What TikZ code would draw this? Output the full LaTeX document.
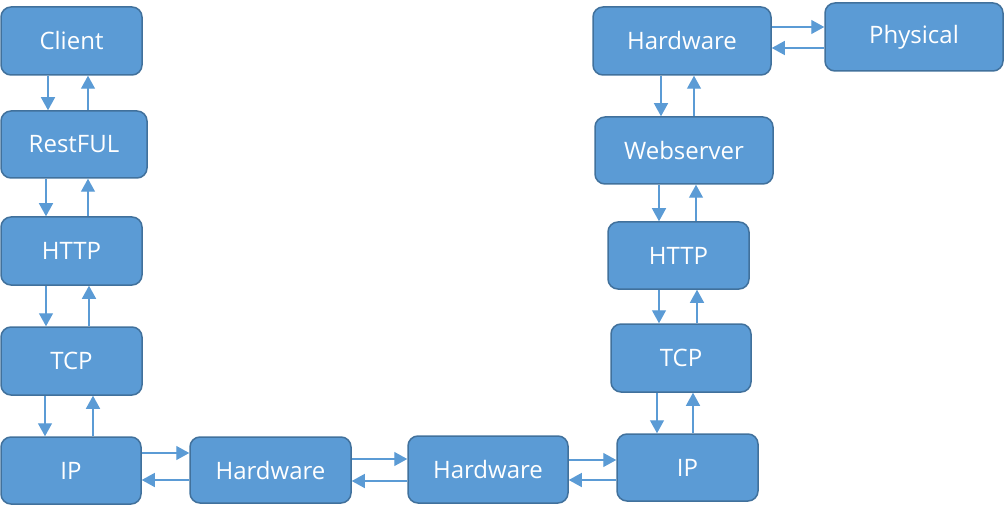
\documentclass[tikz,border=0pt]{standalone}
\usepackage{fontspec}
\setmainfont{Open Sans}
\usetikzlibrary{arrows.meta}
\definecolor{boxfill}{HTML}{5B9BD5}
\definecolor{boxline}{HTML}{41719C}
\definecolor{linkcol}{HTML}{5B9BD5}
\tikzset{
  layer/.style={draw=boxline, fill=boxfill, line width=1.5pt, rounded corners=10pt,
    text=white, font=\fontsize{24}{29}\selectfont, inner sep=0pt},
  link/.style={draw=linkcol, line width=1.3pt, -{Triangle[length=13pt,width=14pt]}}
}
\begin{document}
\begin{tikzpicture}[x=1pt,y=-1pt]
\useasboundingbox (0,0) rectangle (1004,505);
% client-side stack
\node[layer, minimum width=141, minimum height=68] (client)  at (71.5,41)    {Client};
\node[layer, minimum width=146, minimum height=67] (restful) at (74,144.5)   {RestFUL};
\node[layer, minimum width=141, minimum height=68] (httpL)   at (71.5,251)   {HTTP};
\node[layer, minimum width=141, minimum height=68] (tcpL)    at (71.5,361)   {TCP};
\node[layer, minimum width=140, minimum height=67] (ipL)     at (71,470.5)   {IP};
% transport path
\node[layer, minimum width=161, minimum height=66] (hwA)     at (270.5,470)  {Hardware};
\node[layer, minimum width=160, minimum height=67] (hwB)     at (488,469.5)  {Hardware};
% server-side stack
\node[layer, minimum width=141, minimum height=67] (ipR)     at (687.5,467.5){IP};
\node[layer, minimum width=140, minimum height=68] (tcpR)    at (681,358)    {TCP};
\node[layer, minimum width=141, minimum height=67] (httpR)   at (678.5,255.5){HTTP};
\node[layer, minimum width=178, minimum height=67] (web)     at (684,150.5)  {Webserver};
\node[layer, minimum width=178, minimum height=68] (hwT)     at (682,41)     {Hardware};
\node[layer, minimum width=178, minimum height=68] (phys)    at (914,37)     {Physical};

% vertical links, left stack
\draw[link] (client.south -| 48,0)  -- (restful.north -| 48,0);
\draw[link] (restful.north -| 88,0) -- (client.south -| 88,0);
\draw[link] (restful.south -| 46,0) -- (httpL.north -| 46,0);
\draw[link] (httpL.north -| 88,0)   -- (restful.south -| 88,0);
\draw[link] (httpL.south -| 46,0)   -- (tcpL.north -| 46,0);
\draw[link] (tcpL.north -| 89,0)    -- (httpL.south -| 89,0);
\draw[link] (tcpL.south -| 45,0)    -- (ipL.north -| 45,0);
\draw[link] (ipL.north -| 93,0)     -- (tcpL.south -| 93,0);

% horizontal links, bottom row
\draw[link] (ipL.east |- 0,453) -- (hwA.west |- 0,453);
\draw[link] (hwA.west |- 0,480) -- (ipL.east |- 0,480);
\draw[link] (hwA.east |- 0,459) -- (hwB.west |- 0,459);
\draw[link] (hwB.west |- 0,481) -- (hwA.east |- 0,481);
\draw[link] (hwB.east |- 0,460) -- (ipR.west |- 0,460);
\draw[link] (ipR.west |- 0,480) -- (hwB.east |- 0,480);

% vertical links, right stack
\draw[link] (tcpR.south -| 657,0)  -- (ipR.north -| 657,0);
\draw[link] (ipR.north -| 693,0)   -- (tcpR.south -| 693,0);
\draw[link] (httpR.south -| 659,0) -- (tcpR.north -| 659,0);
\draw[link] (tcpR.north -| 697,0)  -- (httpR.south -| 697,0);
\draw[link] (web.south -| 659,0)   -- (httpR.north -| 659,0);
\draw[link] (httpR.north -| 696,0) -- (web.south -| 696,0);
\draw[link] (hwT.south -| 661,0)   -- (web.north -| 661,0);
\draw[link] (web.north -| 694,0)   -- (hwT.south -| 694,0);

% links to the physical layer
\draw[link] (hwT.east |- 0,27)  -- (phys.west |- 0,27);
\draw[link] (phys.west |- 0,48) -- (hwT.east |- 0,48);
\end{tikzpicture}
\end{document}
